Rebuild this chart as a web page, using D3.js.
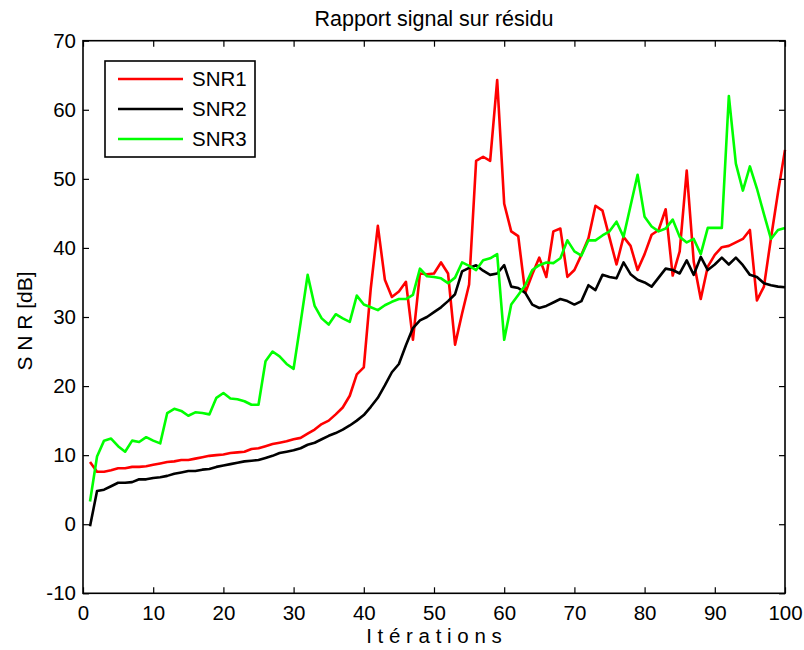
<!DOCTYPE html>
<html><head><meta charset="utf-8">
<script src="https://cdn.jsdelivr.net/npm/d3@7"></script>
<style>
body{margin:0;background:#fff}
text{font-family:"Liberation Sans",Arial,Helvetica,sans-serif;fill:#000}
</style>
</head><body>
<svg id="chart" width="804" height="650"></svg>
<script>
// ---- data ----
const iterations = d3.range(1, 101);
const snr1 = [9.0,7.6,7.6,7.8,8.1,8.1,8.3,8.3,8.4,8.6,
  8.8,9.0,9.1,9.3,9.3,9.5,9.7,9.9,10.0,10.1,
  10.3,10.4,10.5,10.9,11.0,11.3,11.6,11.8,12.0,12.3,
  12.5,13.1,13.7,14.5,15.0,15.9,16.9,18.6,21.7,22.7,
  34.2,43.2,35.4,32.9,33.7,35.1,26.7,36.3,36.2,36.3,
  37.9,36.3,26.0,30.5,34.7,52.6,53.2,52.6,64.3,46.4,
  42.4,41.7,33.5,36.2,38.6,35.8,42.4,42.8,35.8,36.8,
  39.0,41.4,46.1,45.4,41.5,37.6,41.6,40.3,36.8,39.1,
  41.9,42.6,45.6,36.0,39.5,51.2,38.0,32.6,37.3,39.0,
  40.1,40.3,40.8,41.3,42.6,32.4,34.4,41.4,48.0,54.2];
const snr2 = [-0.3,4.8,5.0,5.5,6.0,6.0,6.1,6.5,6.5,6.7,
  6.8,7.0,7.3,7.5,7.7,7.7,7.9,8.0,8.3,8.5,
  8.7,8.9,9.1,9.2,9.3,9.6,9.9,10.3,10.5,10.7,
  11.0,11.5,11.8,12.3,12.8,13.2,13.7,14.3,15.0,15.8,
  17.0,18.3,20.1,22.0,23.2,25.9,28.4,29.5,30.0,30.7,
  31.4,32.3,33.3,36.6,37.1,37.5,36.7,36.1,36.3,37.5,
  34.4,34.2,33.5,31.8,31.3,31.6,32.1,32.6,32.3,31.8,
  32.3,34.6,33.9,36.1,35.8,35.6,37.9,36.2,35.4,35.0,
  34.4,35.7,37.0,36.8,36.3,38.2,36.1,38.7,36.8,37.6,
  38.6,37.6,38.6,37.5,36.1,35.8,34.9,34.6,34.4,34.3];
const snr3 = [3.3,9.8,12.1,12.4,11.3,10.5,12.1,11.9,12.6,12.1,
  11.7,16.1,16.7,16.4,15.7,16.2,16.1,15.9,18.3,19.0,
  18.2,18.1,17.8,17.3,17.3,23.6,25.0,24.3,23.2,22.5,
  29.2,36.1,31.6,29.8,28.9,30.4,29.8,29.3,33.1,31.8,
  31.4,31.0,31.7,32.2,32.6,32.6,33.2,37.0,35.9,35.8,
  35.6,34.9,35.7,37.9,37.4,36.8,38.2,38.5,39.1,26.7,
  31.8,33.2,34.6,36.8,37.5,37.9,37.8,38.5,41.1,39.5,
  38.9,41.1,41.1,41.8,42.4,43.8,41.6,46.1,50.6,44.5,
  43.1,42.4,42.8,44.1,41.6,40.8,41.3,39.1,42.9,42.9,
  42.9,62.0,52.2,48.3,51.8,48.6,44.9,41.3,42.6,42.9];
const seriesNames = ["SNR1", "SNR2", "SNR3"];
const seriesColors = ["#ff0000", "#000000", "#00ff00"];
const xTicks = [0,10,20,30,40,50,60,70,80,90,100];
const yTicks = [-10,0,10,20,30,40,50,60,70];
const titleText = "Rapport signal sur résidu";
const xLabel = "I t é r a t i o n s";
const yLabel = "S N R [dB]";

// ---- layout ----
const L = 83, R = 785, T = 40.7, B = 593.3;
const svg = d3.select("#chart");
const x = d3.scaleLinear().domain([0, 100]).range([L, R]);
const y = d3.scaleLinear().domain([-10, 70]).range([B, T]);
const FS = 20.5;

// lines
const series = [snr1, snr2, snr3];
const line = d3.line().x((d, i) => x(iterations[i])).y(d => y(d));
series.forEach((s, k) => {
  svg.append("path").datum(s)
    .attr("d", line)
    .attr("fill", "none")
    .attr("stroke", seriesColors[k])
    .attr("stroke-width", 2.6)
    .attr("stroke-linejoin", "round");
});

// axes (ticks inward on all sides)
const tl = 6;
const fmt = d => String(d);
const axB = d3.axisBottom(x).tickValues(xTicks).tickFormat(fmt).tickSizeInner(-tl).tickSizeOuter(0);
const axT = d3.axisTop(x).tickValues(xTicks).tickSizeInner(-tl).tickSizeOuter(0).tickFormat("");
const axL = d3.axisLeft(y).tickValues(yTicks).tickFormat(fmt).tickSizeInner(-tl).tickSizeOuter(0).tickPadding(7);
const axR = d3.axisRight(y).tickValues(yTicks).tickSizeInner(-tl).tickSizeOuter(0).tickFormat("");

function style(g) {
  g.select(".domain").remove();
  g.selectAll(".tick line").attr("stroke", "#000").attr("stroke-width", 1.2);
  g.selectAll(".tick text").attr("font-size", FS).attr("font-family", '"Liberation Sans",Arial,sans-serif').attr("fill", "#000");
}
const gB = svg.append("g").attr("transform", `translate(0,${B})`).call(axB).call(style);
gB.selectAll(".tick text").attr("dy", "0.75em").attr("y", 11);
svg.append("g").attr("transform", `translate(0,${T})`).call(axT).call(style);
svg.append("g").attr("transform", `translate(${L},0)`).call(axL).call(style);
svg.append("g").attr("transform", `translate(${R},0)`).call(axR).call(style);

// frame
svg.append("rect").attr("x", L).attr("y", T).attr("width", R - L).attr("height", B - T)
  .attr("fill", "none").attr("stroke", "#000").attr("stroke-width", 1.6);

// title and labels
svg.append("text").attr("x", (L + R) / 2).attr("y", 26).attr("text-anchor", "middle")
  .attr("font-size", 21.5).text(titleText);
svg.append("text").attr("x", (L + R) / 2).attr("y", 643).attr("text-anchor", "middle")
  .attr("font-size", FS).text(xLabel);
svg.append("text").attr("transform", `translate(32,${(T + B) / 2 + 4}) rotate(-90)`)
  .attr("text-anchor", "middle").attr("font-size", 21).text(yLabel);

// legend
const lg = svg.append("g");
lg.append("rect").attr("x", 105).attr("y", 61).attr("width", 150).attr("height", 96)
  .attr("fill", "#fff").attr("stroke", "#000").attr("stroke-width", 1.6);
seriesNames.forEach((n, k) => {
  const yy = 79 + k * 30;
  lg.append("line").attr("x1", 118).attr("x2", 183).attr("y1", yy).attr("y2", yy)
    .attr("stroke", seriesColors[k]).attr("stroke-width", 2.6);
  lg.append("text").attr("x", 192).attr("y", yy).attr("dy", "0.36em")
    .attr("font-size", FS).text(n);
});
</script>
</body></html>
